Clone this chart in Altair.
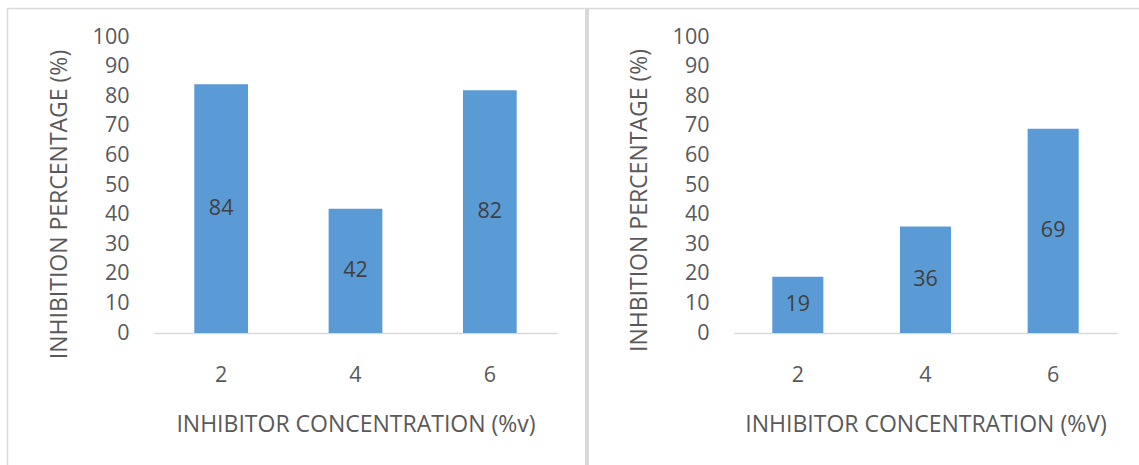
import altair as alt
import pandas as pd

# Inhibitor concentration (%v) on the x axis, inhibition percentage on the y axis
concentration = ["2", "4", "6"]
inhibition_first = [84, 42, 82]
inhibition_second = [19, 36, 69]
y_tick_values = [0, 10, 20, 30, 40, 50, 60, 70, 80, 90, 100]

x_title_first = "INHIBITOR CONCENTRATION (%v)"
x_title_second = "INHIBITOR CONCENTRATION (%V)"
y_title_first = "INHIBITION PERCENTAGE (%)"
y_title_second = "INHBITION PERCENTAGE (%)"

FONT = "Open Sans"
BAR_COLOR = "#5B9BD5"
TEXT_GREY = "#595959"
LABEL_DARK = "#404040"
LINE_GREY = "#D9D9D9"

W, H = 1139, 465
BASE_Y, TOP_Y = 333, 37


def panel(values, x_range, x_title, y_title, y_axis_x, y_title_y):
    df = pd.DataFrame({"conc": concentration, "pct": values})
    x_axis = alt.Axis(
        title=x_title, orient="bottom", offset=-(H - BASE_Y),
        domain=True, domainColor=LINE_GREY, domainWidth=1.5,
        ticks=False, tickSize=0, grid=False,
        labelAngle=0, labelFont=FONT, labelFontSize=21.5, labelColor=TEXT_GREY,
        labelPadding=48, labelBaseline="alphabetic",
        titleFont=FONT, titleFontSize=23, titleColor=TEXT_GREY,
        titleFontWeight="normal", titleBaseline="alphabetic", titleY=98.5,
    )
    y_axis = alt.Axis(
        title=y_title, orient="left", offset=-y_axis_x,
        values=y_tick_values, domain=False, ticks=False, tickSize=0, grid=False,
        labelFont=FONT, labelFontSize=21.5, labelColor=TEXT_GREY,
        labelPadding=25, labelBaseline="middle", labelOverlap=False, labelFlush=False,
        titleFont=FONT, titleFontSize=23, titleColor=TEXT_GREY,
        titleFontWeight="normal", titleAngle=270, titleAlign="center",
        titleBaseline="alphabetic", titleX=-88, titleY=y_title_y,
    )
    x_scale = alt.Scale(range=x_range, paddingInner=0.6, paddingOuter=0.3)
    y_scale = alt.Scale(domain=[0, 100], range=[BASE_Y, TOP_Y], nice=False, zero=True)

    bars = alt.Chart(df).mark_bar(color=BAR_COLOR).encode(
        x=alt.X("conc:N", sort=concentration, scale=x_scale, axis=x_axis),
        y=alt.Y("pct:Q", scale=y_scale, axis=y_axis),
    )
    labels = alt.Chart(df).transform_calculate(mid="datum.pct / 2").mark_text(
        font=FONT, fontSize=21.5, color=LABEL_DARK, baseline="middle", align="center"
    ).encode(
        x=alt.X("conc:N", sort=concentration, scale=x_scale, axis=x_axis),
        y=alt.Y("mid:Q", scale=y_scale, axis=y_axis),
        text=alt.Text("pct:Q"),
    )
    return alt.layer(bars, labels)


left = panel(inhibition_first, [154, 557], x_title_first, y_title_first, 154, 204)
right = panel(inhibition_second, [734, 1117], x_title_second, y_title_second, 734, 200)

# chart-area frame lines
one = pd.DataFrame({"k": [0]})
top_line = alt.Chart(one).mark_rule(color=LINE_GREY, strokeWidth=1.5).encode(
    x=alt.value(7), x2=alt.value(W), y=alt.value(8.5)
)
left_line = alt.Chart(one).mark_rule(color=LINE_GREY, strokeWidth=1.5).encode(
    x=alt.value(7.5), y=alt.value(8), y2=alt.value(H)
)
divider = alt.Chart(one).mark_rule(color=LINE_GREY, strokeWidth=4).encode(
    x=alt.value(587), y=alt.value(8), y2=alt.value(H)
)

chart = (
    alt.layer(left, right, top_line, left_line, divider)
    .resolve_scale(x="independent", y="independent")
    .resolve_axis(x="independent", y="independent")
    .properties(width=W, height=H, autosize=alt.AutoSizeParams(type="none"), padding=0,
                background="white")
    .configure_view(stroke=None)
)

chart.save("out.html", embed_options={"renderer": "svg", "actions": False})
